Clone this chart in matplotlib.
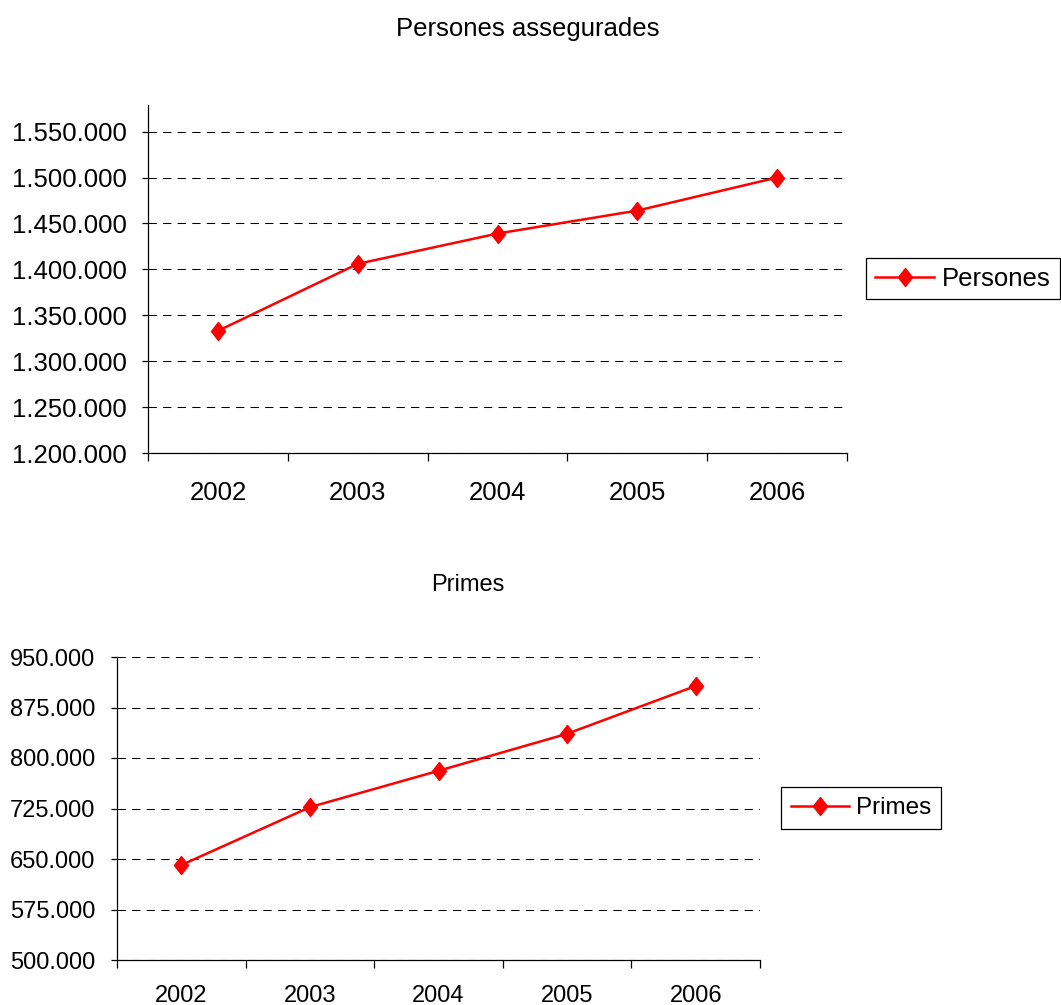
import matplotlib
matplotlib.use('Agg')
from matplotlib import pyplot as plt
from matplotlib.ticker import FuncFormatter

plt.rcParams['font.family'] = ['Liberation Sans', 'DejaVu Sans']

years = ['2002', '2003', '2004', '2005', '2006']
persones = [1333000, 1406000, 1439000, 1464000, 1500000]
primes = [641000, 727000, 781000, 836000, 907000]

W, H = 1061, 1005
fig = plt.figure(figsize=(W / 100, H / 100), dpi=100)

# rombe una mica estret, com el d'Excel
diamond = [(0, 1), (0.78, 0), (0, -1), (-0.78, 0), (0, 1)]


def dots(v, pos):
    return f'{int(v):,}'.replace(',', '.')


def box(l, t, r, b):
    return [l / W, 1 - b / H, (r - l) / W, (b - t) / H]


def ymax_tick(ymax, ymin, step):
    n = (ymax - ymin) // step
    return ymin + n * step


def draw(ax, values, label, ymin, ymax, step, fs, xpad):
    x = range(len(years))
    ax.plot(x, values, color='#FF0000', lw=1.8, marker=diamond,
            ms=13, mec='#FF0000', mfc='#FF0000', mew=1, label=label)
    ax.set_xlim(-0.5, len(years) - 0.5)
    ax.set_ylim(ymin, ymax)
    ax.set_yticks(range(ymin, ymax_tick(ymax, ymin, step) + 1, step))
    ax.yaxis.set_major_formatter(FuncFormatter(dots))
    ax.set_xticks([i - 0.5 for i in range(len(years) + 1)])
    ax.set_xticklabels([])
    ax.set_xticks(list(x), minor=True)
    ax.set_xticklabels(years, minor=True)
    ax.tick_params(axis='x', which='major', direction='out', length=6,
                   width=0.9)
    ax.tick_params(axis='x', which='minor', length=0, pad=xpad, labelsize=fs)
    ax.tick_params(axis='y', direction='out', length=4.5, width=0.9,
                   pad=11, labelsize=fs)
    for s in ['top', 'right']:
        ax.spines[s].set_visible(False)
    for s in ['left', 'bottom']:
        ax.spines[s].set_linewidth(0.9)
    ax.grid(axis='y', color='black', ls=(0, (8, 6)), lw=0.75)
    ax.set_axisbelow(True)


ax1 = fig.add_axes(box(148, 105, 847, 453))
draw(ax1, persones, 'Persones', 1200000, 1579000, 50000, 18.5, 20)
fig.text(528 / W, 1 - 29 / H, 'Persones assegurades', ha='center',
         va='center', fontsize=18.5)
leg1 = ax1.legend(loc='center', bbox_to_anchor=(963 / W, 1 - 278.5 / H),
                  bbox_transform=fig.transFigure, fontsize=18.5,
                  fancybox=False, framealpha=1, edgecolor='black',
                  handlelength=2.3, borderpad=0.35, handletextpad=0.3,
                  borderaxespad=0)
leg1.get_frame().set_linewidth(0.9)

ax2 = fig.add_axes(box(117, 657, 760, 960))
draw(ax2, primes, 'Primes', 500000, 950000, 75000, 17, 18)
fig.text(468 / W, 1 - 585 / H, 'Primes', ha='center', va='center',
         fontsize=17)
leg2 = ax2.legend(loc='center', bbox_to_anchor=(861 / W, 1 - 808 / H),
                  bbox_transform=fig.transFigure, fontsize=17.5,
                  fancybox=False, framealpha=1, edgecolor='black',
                  handlelength=2.4, borderpad=0.4, handletextpad=0.3,
                  borderaxespad=0)
leg2.get_frame().set_linewidth(0.9)

fig.savefig('out.png', dpi=100)
